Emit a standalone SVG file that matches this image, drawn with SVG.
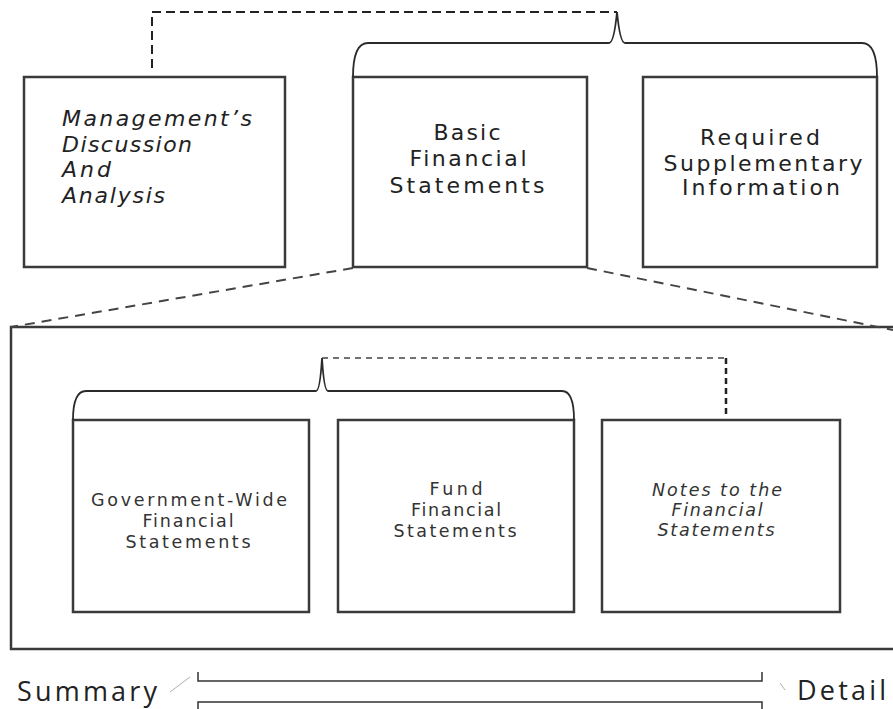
<svg xmlns="http://www.w3.org/2000/svg" width="893" height="709" viewBox="0 0 893 709">
<style>
.box{fill:#fff;stroke:#3a3a3a;stroke-width:2.5}
.brace{fill:none;stroke:#2a2a2a;stroke-width:1.8}
.t{font-family:"DejaVu Sans",Verdana,sans-serif;fill:#222;text-anchor:middle}
.big{font-size:22px}
.small{font-size:17.5px;fill:#333}
.it{font-style:italic}
.lbl{font-family:"Open Sans","DejaVu Sans",sans-serif;font-size:27px;fill:#222}
</style>
<rect width="893" height="709" fill="#fff"/>
<g id="container"><rect class="box" x="11" y="327" width="895" height="322"/></g>
<g id="mdna">
<rect class="box" x="24" y="77" width="261" height="190"/>
<text class="t big it" style="text-anchor:start" x="62" y="126" textLength="190" lengthAdjust="spacing">Management’s</text>
<text class="t big it" style="text-anchor:start" x="62" y="152" textLength="130" lengthAdjust="spacing">Discussion</text>
<text class="t big it" style="text-anchor:start" x="62" y="177" textLength="49" lengthAdjust="spacing">And</text>
<text class="t big it" style="text-anchor:start" x="62" y="203" textLength="103" lengthAdjust="spacing">Analysis</text>
</g>
<g id="basic">
<rect class="box" x="353" y="77" width="234" height="190"/>
<text class="t big" x="467" y="140" textLength="67" lengthAdjust="spacing">Basic</text>
<text class="t big" x="468" y="166" textLength="117" lengthAdjust="spacing">Financial</text>
<text class="t big" x="467" y="193" textLength="155" lengthAdjust="spacing">Statements</text>
</g>
<g id="rsi">
<rect class="box" x="643" y="77" width="234" height="190"/>
<text class="t big" x="760" y="145" textLength="120" lengthAdjust="spacing">Required</text>
<text class="t big" x="763" y="171" textLength="199" lengthAdjust="spacing">Supplementary</text>
<text class="t big" x="761" y="195" textLength="158" lengthAdjust="spacing">Information</text>
</g>
<g id="govwide">
<rect class="box" x="73" y="420" width="236" height="192"/>
<text class="t small" x="189" y="506" textLength="196" lengthAdjust="spacing">Government-Wide</text>
<text class="t small" x="188" y="527" textLength="91" lengthAdjust="spacing">Financial</text>
<text class="t small" x="188" y="548" textLength="125" lengthAdjust="spacing">Statements</text>
</g>
<g id="fund">
<rect class="box" x="338" y="420" width="236" height="192"/>
<text class="t small" x="456" y="495" textLength="53" lengthAdjust="spacing">Fund</text>
<text class="t small" x="456" y="516" textLength="90" lengthAdjust="spacing">Financial</text>
<text class="t small" x="455" y="537" textLength="123" lengthAdjust="spacing">Statements</text>
</g>
<g id="notes">
<rect class="box" x="602" y="420" width="238" height="192"/>
<text class="t small it" x="717" y="496" textLength="130" lengthAdjust="spacing">Notes to the</text>
<text class="t small it" x="717" y="516" textLength="91" lengthAdjust="spacing">Financial</text>
<text class="t small it" x="716" y="536" textLength="117" lengthAdjust="spacing">Statements</text>
</g>
<g id="labels">
<text class="lbl" x="17" y="701" textLength="140" lengthAdjust="spacing">Summary</text>
<text class="lbl" x="797" y="700" textLength="89" lengthAdjust="spacing">Detail</text>
</g>
<g id="connectors">
<path class="brace" d="M353 77 Q353 43 368 43 L609 43 Q614 43 617 12 Q620 43 625 43 L862 43 Q877 43 877 77"/>
<path class="brace" d="M73 420 Q73 391 86 391 L316 391 Q320 391 322 358 Q324 391 328 391 L562 391 Q574 391 574 420"/>
<path fill="none" stroke="#222" stroke-width="2" stroke-dasharray="9,5" d="M152 68 V12 H617"/>
<path fill="none" stroke="#444" stroke-width="2" stroke-dasharray="10,7" d="M353 268 L11 327"/>
<path fill="none" stroke="#444" stroke-width="2" stroke-dasharray="10,7" d="M587 268 L893 330"/>
<path fill="none" stroke="#444" stroke-width="1.5" stroke-dasharray="6,5" d="M322 358 H726"/>
<path fill="none" stroke="#222" stroke-width="2.5" stroke-dasharray="6,4" d="M726 358 V418"/>
<path fill="none" stroke="#333" stroke-width="1.5" d="M198 672 V681 H762 V672 M198 709 V702 H762 V709"/>
<path fill="none" stroke="#999" stroke-width="0.8" d="M170 692 L190 677 M780 683 L785 690"/>
</g>
</svg>
